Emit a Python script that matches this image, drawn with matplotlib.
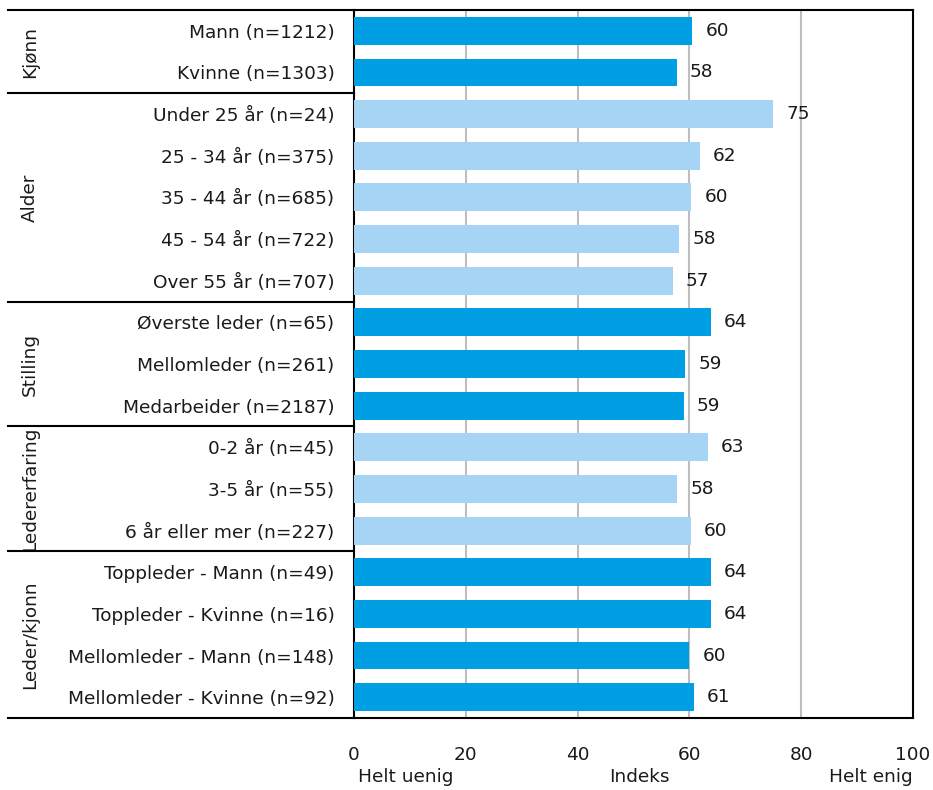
import matplotlib
matplotlib.use("Agg")
import matplotlib.pyplot as plt
from matplotlib.transforms import blended_transform_factory

plt.rcParams['font.family'] = ['DejaVu Sans']

categories = [
    "Mann (n=1212)", "Kvinne (n=1303)",
    "Under 25 år (n=24)", "25 - 34 år (n=375)", "35 - 44 år (n=685)",
    "45 - 54 år (n=722)", "Over 55 år (n=707)",
    "Øverste leder (n=65)", "Mellomleder (n=261)", "Medarbeider (n=2187)",
    "0-2 år (n=45)", "3-5 år (n=55)", "6 år eller mer (n=227)",
    "Toppleder - Mann (n=49)", "Toppleder - Kvinne (n=16)",
    "Mellomleder - Mann (n=148)", "Mellomleder - Kvinne (n=92)",
]
values = [60.5, 57.7, 75.0, 61.9, 60.3, 58.2, 57.0, 63.8, 59.2, 59.0,
          63.3, 57.8, 60.2, 63.8, 63.8, 60.0, 60.8]
value_labels = ["60", "58", "75", "62", "60", "58", "57", "64", "59", "59",
                "63", "58", "60", "64", "64", "60", "61"]
groups = ["Kjønn", "Alder", "Stilling", "Ledererfaring", "Leder/kjonn"]
group_sizes = [2, 5, 3, 3, 4]
x_ticks = [0, 20, 40, 60, 80, 100]
bottom_labels = ["Helt uenig", "Indeks", "Helt enig"]

dark = "#009FE3"
light = "#A6D4F4"
group_colors = [dark, light, dark, light, dark]
txt = "#1a1a1a"
fs = 13.3

fig = plt.figure(figsize=(9.33, 7.90), dpi=100)
ax = fig.add_axes([354/933, 1-718/790, 559/933, 708/790])

colors = []
for g, n in enumerate(group_sizes):
    colors += [group_colors[g]] * n

n = len(categories)
ypos = list(range(n))
ax.barh(ypos, values, height=0.67, color=colors, zorder=3)
ax.set_ylim(n - 0.5, -0.5)
ax.set_xlim(0, 100)

for y, v, lab in zip(ypos, values, value_labels):
    ax.annotate(lab, (v, y), xytext=(9.5, 0), textcoords="offset points",
                va="center", ha="left", fontsize=fs, color=txt)

ax.set_yticks(ypos)
ax.set_yticklabels(categories, fontsize=fs, color=txt)
ax.set_xticks(x_ticks)
ax.set_xticklabels([str(t) for t in x_ticks], fontsize=fs, color=txt)
ax.tick_params(axis="y", length=0, pad=14)
ax.tick_params(axis="x", length=0, pad=20)

for t in x_ticks[1:-1]:
    ax.axvline(t, color="#BEBEC2", lw=1.5, zorder=1)

for s in ax.spines.values():
    s.set_linewidth(1.5)
    s.set_color("black")

trans = blended_transform_factory(ax.transAxes, ax.transData)
x_left = (8 - 354) / 559
bounds = [-0.5]
acc = -0.5
for sz in group_sizes:
    acc += sz
    bounds.append(acc)
for b in bounds:
    ax.plot([x_left, 0], [b, b], transform=trans, color="black", lw=1.5,
            clip_on=False, zorder=5)

for g, name in enumerate(groups):
    mid = (bounds[g] + bounds[g + 1]) / 2
    ax.text((30 - 354) / 559, mid, name, transform=trans, rotation=90,
            ha="center", va="center", fontsize=fs, color=txt)

ax.text(0.008, -0.083, bottom_labels[0], transform=ax.transAxes, ha="left",
        va="center", fontsize=fs, color=txt)
ax.text(0.51, -0.083, bottom_labels[1], transform=ax.transAxes, ha="center",
        va="center", fontsize=fs, color=txt)
ax.text(1.0, -0.083, bottom_labels[2], transform=ax.transAxes, ha="right",
        va="center", fontsize=fs, color=txt)

fig.savefig("out.png", dpi=100)
